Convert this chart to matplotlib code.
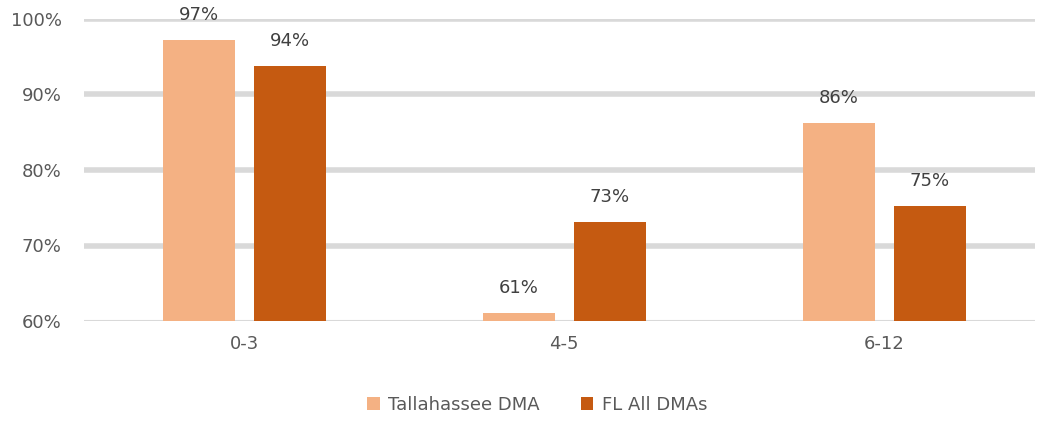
import matplotlib
matplotlib.use("Agg")
import matplotlib.pyplot as plt
import numpy as np
from matplotlib.ticker import FuncFormatter

categories = ["0-3", "4-5", "6-12"]
series_names = ["Tallahassee DMA", "FL All DMAs"]
tallahassee = [97.2, 61.1, 86.2]
fl_all = [93.8, 73.1, 75.2]
labels_t = ["97%", "61%", "86%"]
labels_f = ["94%", "73%", "75%"]
colors = ["#F4B183", "#C55A11"]

plt.rcParams['font.family'] = ['DejaVu Sans']
FS = 13

fig = plt.figure(figsize=(10.37, 4.21), dpi=100)
ax = fig.add_axes([84/1037, 1-321/421, (1035-84)/1037, (321-19)/421])

x = np.arange(len(categories))
w = 0.225
off = 0.142
b1 = ax.bar(x - off, tallahassee, w, color=colors[0], label=series_names[0], zorder=3)
b2 = ax.bar(x + off, fl_all, w, color=colors[1], label=series_names[1], zorder=3)

for bars, labs in ((b1, labels_t), (b2, labels_f)):
    for rect, lab in zip(bars, labs):
        ax.annotate(lab, (rect.get_x() + rect.get_width()/2, rect.get_height()),
                    xytext=(0, 11.5), textcoords="offset points", ha="center", va="bottom",
                    fontsize=FS, color="#404040", clip_on=False, zorder=4)

ax.set_ylim(60, 100)
ax.set_xlim(-0.5, 2.47)
ax.set_yticks([60, 70, 80, 90, 100])
ax.yaxis.set_major_formatter(FuncFormatter(lambda v, p: f"{v:.0f}%"))
ax.set_xticks(x)
ax.set_xticklabels(categories)
ax.tick_params(axis="both", length=0, labelsize=FS, labelcolor="#595959")
ax.tick_params(axis="y", pad=16)
ax.tick_params(axis="x", pad=10)

for v in [70, 80, 90, 100]:
    ax.axhline(v, color="#D9D9D9", lw=4.0, zorder=1)
ax.axhline(60, color="#D9D9D9", lw=1.5, zorder=2)

for s in ax.spines.values():
    s.set_visible(False)

leg = fig.legend(handles=[b1, b2], labels=series_names, loc="center",
                 bbox_to_anchor=(537/1037, 1-405/421), ncol=2, frameon=False,
                 fontsize=FS, handlelength=0.7, handleheight=0.7, handletextpad=0.45,
                 columnspacing=2.3, labelcolor="#595959")

fig.savefig("out.png", dpi=100)
